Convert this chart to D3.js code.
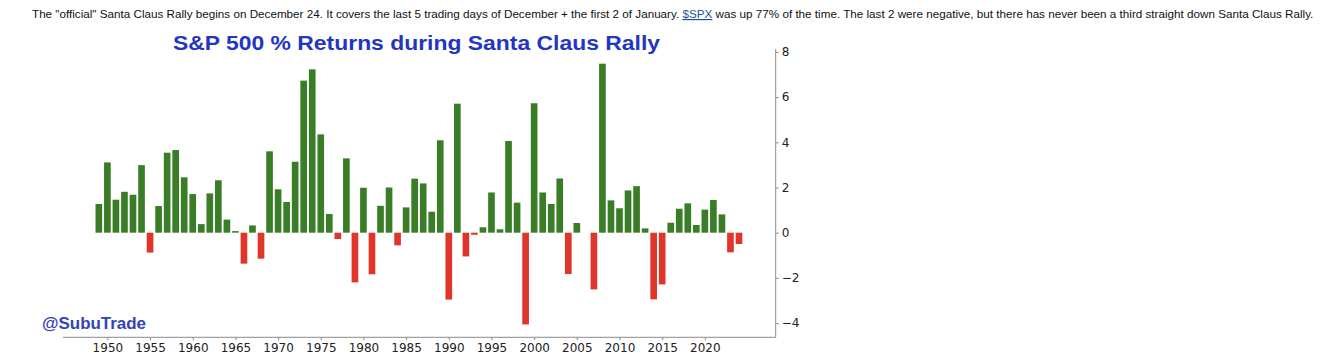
<!DOCTYPE html>
<html>
<head>
<meta charset="utf-8">
<script src="https://cdn.jsdelivr.net/npm/d3@7"></script>
<style>
  html, body { margin: 0; padding: 0; background: #fff; }
  svg { display: block; }
</style>
</head>
<body>
<svg id="chart" width="1331" height="360"></svg>
<script>
const years = [1949,1950,1951,1952,1953,1954,1955,1956,1957,1958,1959,
  1960,1961,1962,1963,1964,1965,1966,1967,1968,1969,
  1970,1971,1972,1973,1974,1975,1976,1977,1978,1979,
  1980,1981,1982,1983,1984,1985,1986,1987,1988,1989,
  1990,1991,1992,1993,1994,1995,1996,1997,1998,1999,
  2000,2001,2002,2003,2004,2005,2006,2007,2008,2009,
  2010,2011,2012,2013,2014,2015,2016,2017,2018,2019,
  2020,2021,2022,2023,2024];
const returns = [1.27,3.11,1.46,1.81,1.68,2.99,-0.88,1.18,3.54,3.66,2.45,
  1.71,0.38,1.74,2.32,0.58,0.07,-1.37,0.32,-1.15,3.60,
  1.92,1.36,3.14,6.73,7.23,4.35,0.83,-0.28,3.29,-2.20,
  1.99,-1.84,1.19,2.00,-0.56,1.12,2.39,2.18,0.93,4.09,
  -2.96,5.71,-1.05,-0.09,0.24,1.78,0.15,4.06,1.33,-4.06,
  5.73,1.78,1.27,2.40,-1.83,0.43,0.00,-2.51,7.48,1.43,
  1.08,1.87,2.06,0.19,-2.95,-2.29,0.44,1.06,1.30,0.34,
  1.02,1.45,0.81,-0.87,-0.50];
const xTickYears = [1950,1955,1960,1965,1970,1975,1980,1985,1990,1995,2000,2005,2010,2015,2020];
const yTickValues = [-4,-2,0,2,4,6,8];
const titleText = "S&P 500 % Returns during Santa Claus Rally";
const watermark = "@SubuTrade";
const headerParts = [
  "The \"official\" Santa Claus Rally begins on December 24. It covers the last 5 trading days of December + the first 2 of January. ",
  "$SPX",
  " was up 77% of the time. The last 2 were negative, but there has never been a third straight down Santa Claus Rally."
];

const svg = d3.select("#chart");
const x = d3.scaleLinear().domain([1944.8, 2028.3]).range([63, 775.7]);
const y = d3.scaleLinear().domain([-4.63, 8.13]).range([337.3, 49]);
const step = x(1) - x(0);
const bw = step * 0.78;

// header (single text element with a styled link span)
const hdr = svg.append("text").attr("x", 32).attr("y", 18)
  .attr("font-family", "Liberation Sans, Arial, sans-serif").attr("font-size", 11.68).attr("fill", "#111")
  .attr("xml:space", "preserve").style("white-space", "pre");
hdr.append("tspan").text(headerParts[0]);
hdr.append("tspan").attr("fill", "#1f4e9c").attr("text-decoration", "underline").text(headerParts[1]);
hdr.append("tspan").text(headerParts[2]);

// title
svg.append("text").attr("x", 173).attr("y", 50)
  .attr("font-family", "Liberation Sans, Arial, sans-serif").attr("font-weight", "bold").attr("font-size", 21)
  .attr("fill", "#2336c0").attr("textLength", 487).attr("lengthAdjust", "spacingAndGlyphs").text(titleText);

// bars
svg.append("g").selectAll("rect").data(years.map((yr, i) => ({yr, v: returns[i]})))
  .join("rect")
  .attr("x", d => x(d.yr) - bw / 2)
  .attr("width", bw)
  .attr("y", d => y(Math.max(0, d.v)))
  .attr("height", d => Math.abs(y(d.v) - y(0)))
  .attr("fill", d => d.v >= 0 ? "#3a7d27" : "#e0352a");

// bottom axis
const xAxis = d3.axisBottom(x).tickValues(xTickYears).tickFormat(d3.format("d")).tickSize(3).tickPadding(3);
const gx = svg.append("g").attr("transform", "translate(0,337.3)").call(xAxis);
gx.select(".domain").attr("stroke", "#8a8a8a").attr("d", "M63,0H775.7");
gx.selectAll(".tick line").attr("stroke", "#8a8a8a");
gx.selectAll(".tick text").attr("font-family", "DejaVu Sans, sans-serif").attr("font-size", 12).attr("fill", "#222");

// right axis
const yAxis = d3.axisRight(y).tickValues(yTickValues).tickFormat(d => d < 0 ? "\u2212" + Math.abs(d) : String(d)).tickSize(3).tickPadding(3);
const gy = svg.append("g").attr("transform", "translate(775.7,0)").call(yAxis);
gy.select(".domain").attr("stroke", "#8a8a8a").attr("d", "M0,49V337.3");
gy.selectAll(".tick line").attr("stroke", "#8a8a8a");
gy.selectAll(".tick text").attr("font-family", "DejaVu Sans, sans-serif").attr("font-size", 12).attr("fill", "#222");

// watermark
svg.append("text").attr("x", 42).attr("y", 329)
  .attr("font-family", "Liberation Sans, Arial, sans-serif").attr("font-weight", "bold").attr("font-size", 16)
  .attr("fill", "#3344b8").attr("textLength", 104).attr("lengthAdjust", "spacingAndGlyphs").text(watermark);
</script>
</body>
</html>
